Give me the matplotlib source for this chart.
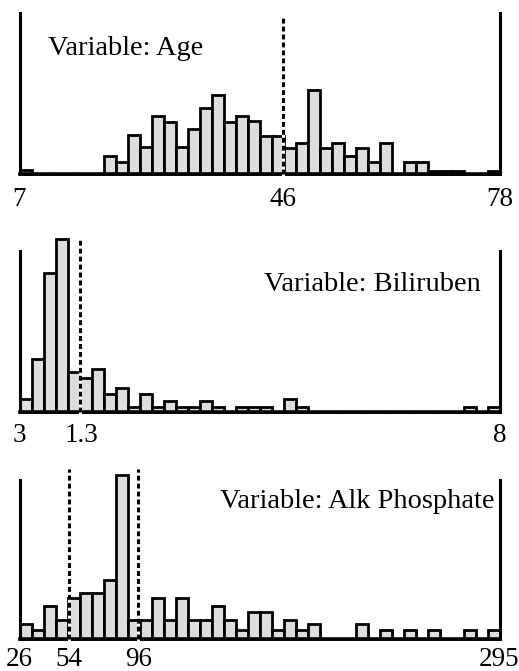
import numpy as np
import matplotlib
matplotlib.use("Agg")
import matplotlib.pyplot as plt

plt.rcParams['font.family'] = ['Liberation Serif', 'DejaVu Serif']

# ---- data (bar heights per bin, 40 equal bins per variable; arbitrary count units) ----
n_bins = 40
age_counts = [4, 0, 0, 0, 0, 0, 0, 17.7, 11.7, 39.3,
              26.7, 57.7, 51.7, 26.7, 45, 65.7, 79, 51.7, 57.7, 52.7,
              38.3, 38.3, 25.7, 31, 84, 25.7, 31, 17.7, 25.7, 11.7,
              31, 0, 11.7, 11.7, 3.3, 3.3, 3.3, 0, 0, 3.3]
bili_counts = [13.3, 53.3, 139, 173.3, 40, 34.3, 42.7, 18.3, 24, 5,
               18.3, 5, 10.7, 5, 5, 10.7, 5, 0, 5, 5,
               5, 0, 13.3, 5, 0, 0, 0, 0, 0, 0,
               0, 0, 0, 0, 0, 0, 0, 5, 0, 5]
alk_counts = [14.7, 9, 33.3, 19, 40.7, 46.3, 46.3, 59, 163.7, 19,
              19, 40.7, 19, 40.7, 19, 19, 33.3, 19, 9, 27.3,
              27.3, 9, 19, 9, 14.7, 0, 0, 0, 14.7, 0,
              9, 0, 9, 0, 9, 0, 0, 9, 0, 9]

titles = ["Variable: Age", "Variable: Biliruben", "Variable: Alk Phosphate"]
# tick labels and their positions on the bin scale
age_ticks = ["7", "46", "78"]
age_tick_pos = [0, 21.96, 40]
bili_ticks = ["3", "1.3", "8"]
bili_tick_pos = [0, 5.2, 40]
alk_ticks = ["26", "54", "96", "295"]
alk_tick_pos = [0, 4.15, 9.9, 40]
# reference (dashed) lines on the bin scale
age_lines = [21.96]
bili_lines = [5.04]
alk_lines = [4.15, 9.9]

W, H = 519, 671
fig = plt.figure(figsize=(W / 100, H / 100), dpi=100)

# layout in pixels: (baseline y, top y, line top y, label centre y, title x, title baseline y, title ha)
panels = [
    (age_counts, age_ticks, age_tick_pos, age_lines, titles[0], 174, 13, 16, 200, 48, 55, 'left'),
    (bili_counts, bili_ticks, bili_tick_pos, bili_lines, titles[1], 412, 251, 238, 435, 481, 291, 'right'),
    (alk_counts, alk_ticks, alk_tick_pos, alk_lines, titles[2], 639, 480, 469, 660, 494, 508, 'right'),
]

x0, x1 = 19.5, 499.5
for counts, ticks, tpos, lines, title, base, top, ltop, laby, tx, ty, tha in panels:
    hpx = base - top
    ax = fig.add_axes([x0 / W, 1 - base / H, (x1 - x0) / W, hpx / H])
    ax.set_xlim(0, n_bins)
    ax.set_ylim(0, hpx)
    ax.bar(np.arange(n_bins), counts, width=1, align='edge', color='#dddddd',
           edgecolor='black', linewidth=2.0, clip_on=False, zorder=1)
    ax.spines['top'].set_visible(False)
    ax.spines['left'].set_linewidth(2.2)
    ax.spines['right'].set_linewidth(2.2)
    ax.spines['bottom'].set_linewidth(2.6)
    ax.spines['bottom'].set_capstyle('projecting')
    ax.set_xticks([])
    ax.set_yticks([])
    ax.patch.set_alpha(0)
    for lx in lines:
        ax.plot([lx, lx], [0, base - ltop], color='white', lw=2.2, clip_on=False, zorder=3)
        ax.plot([lx, lx], [0, base - ltop], color='black', lw=2.2, clip_on=False, zorder=4,
                dashes=(1.6, 1.0))
    for lab, p in zip(ticks, tpos):
        ax.text(p, -(laby - base), lab, ha='center', va='center', fontsize=19.5,
                clip_on=False)
    fig.text(tx / W, 1 - ty / H, title, ha=tha, va='baseline', fontsize=20.4)

fig.savefig("out.png", dpi=100)
